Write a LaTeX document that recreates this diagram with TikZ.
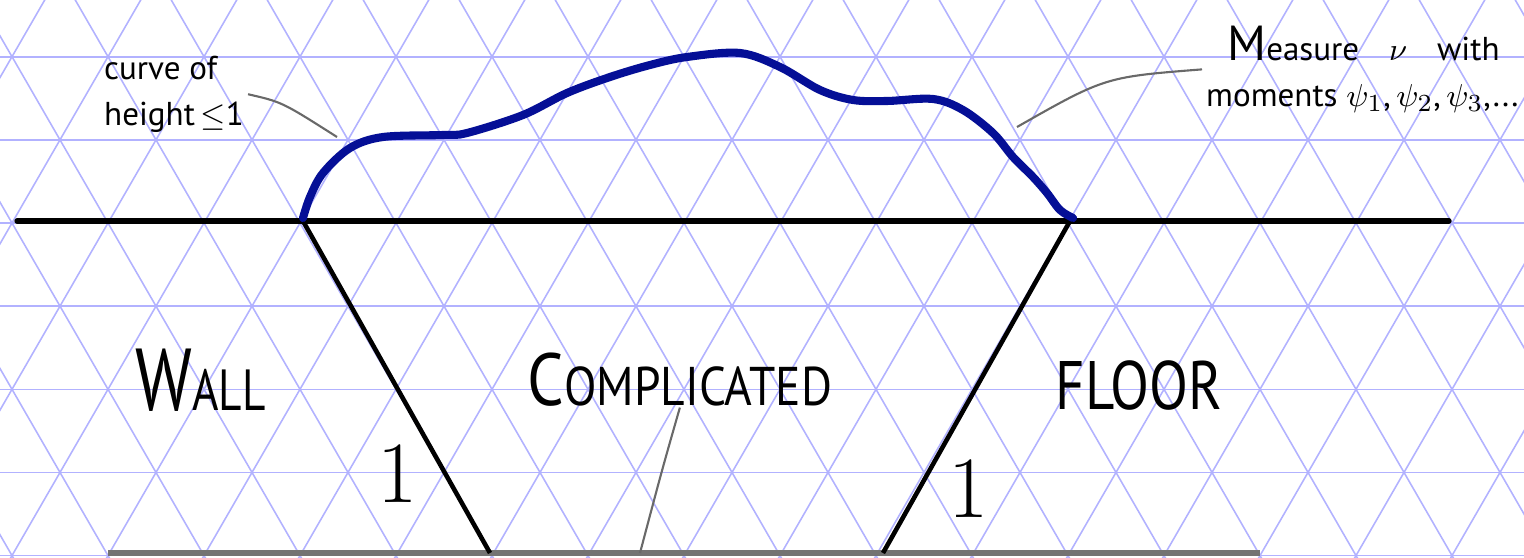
\documentclass[tikz,border=0pt]{standalone}
\usepackage{fontspec}
\setsansfont{PT Sans}
\usetikzlibrary{calc}

\definecolor{gridblue}{RGB}{178,178,255}
\definecolor{curveblue}{RGB}{5,15,150}
\definecolor{notegray}{RGB}{105,105,105}

% first letter large, the rest smaller (hand-written small caps)
\newcommand{\handsc}[4]{{\fontsize{#1}{#1}\selectfont #3}{\fontsize{#2}{#2}\selectfont #4}}

\begin{document}
\begin{tikzpicture}[
    x=0.01cm, y=-0.01cm,
    gridline/.style={draw=gridblue, line width=0.45pt},
    ground/.style={draw=black, line width=1.5pt, line cap=round},
    slant/.style={draw=black, line width=1.3pt},
    floorline/.style={draw=black!55, line width=1.5pt},
    curveline/.style={draw=curveblue, line width=2.3pt, line cap=round, line join=round},
    note/.style={draw=notegray, line width=0.6pt},
    bigword/.style={inner sep=0pt, anchor=base west, font=\sffamily, transform shape},
    smallnote/.style={inner sep=1pt, align=left, font=\sffamily\fontsize{9.4}{13}\selectfont},
    onelbl/.style={inner sep=0pt, anchor=base west}
  ]
  \useasboundingbox (0,0) rectangle (1524,558);

  % triangular grid paper
  \begin{scope}
    \clip (0,0) rectangle (1524,558);
    \foreach \k in {-4,...,20} {
      \draw[gridline] (12+96*\k-277.1,-257) -- (12+96*\k+277.1,703);
      \draw[gridline] (12+96*\k+277.1,-257) -- (12+96*\k-277.1,703);
    }
    \foreach \r in {1,...,7}
      \draw[gridline] (0,-26.4+83.14*\r) -- (1524,-26.4+83.14*\r);
  \end{scope}

  % the two levels
  \coordinate (groundL) at (17,221);
  \coordinate (groundR) at (1449,221);
  \coordinate (wallTop) at (303,221);
  \coordinate (floorTop) at (1070,221);
  \coordinate (wallFoot) at (490,553);
  \coordinate (floorFoot) at (883,553);
  \coordinate (bottomL) at (108,553);
  \coordinate (bottomR) at (1260,553);

  \draw[floorline] (bottomL) -- (bottomR);
  \draw[ground] (groundL) -- (groundR);
  \draw[slant] (wallTop) -- (wallFoot);
  \draw[slant] (floorTop) -- (floorFoot);

  % the curve
  \draw[curveline] plot[smooth, tension=0.55] coordinates {
    (303,218) (310,197) (323,173) (350,148) (383,137) (443,135) (467,133)
    (523,115) (567,93) (610,77) (650,65) (687,57) (740,53) (780,67) (820,90)
    (853,100) (887,101) (933,99) (963,110) (993,133) (1013,157) (1033,177)
    (1047,193) (1060,210) (1073,218)};

  % labels
  \node[bigword, xscale=0.78] (wall) at (135,411) {\handsc{25}{16.5}{W}{ALL}};
  \node[bigword, xscale=0.87] (complicated) at (527,406) {\handsc{21}{15.5}{C}{OMPLICATED}};
  \node[bigword, xscale=0.83] (floor) at (1055,410) {\fontsize{19.5}{19.5}\selectfont FLOOR};
  \node[onelbl] (oneL) at (377,503) {\fontsize{30}{30}\selectfont $1$};
  \node[onelbl] (oneR) at (948,518) {\fontsize{25}{25}\selectfont $1$};

  \node[smallnote, anchor=north west] (curvelbl) at (100,52)
    {curve of\\height\,$\leq$1};
  \node[smallnote, anchor=north west] (measurelbl) at (1202,22)
    {\hspace*{6pt}{\fontsize{14}{13}\selectfont M}easure\hspace{6pt} $\nu$\hspace{6pt} with\\moments $\psi_1$,\,$\psi_2$,\,$\psi_3$,...};

  % pointers
  \coordinate (curveTip) at (337,137);
  \coordinate (measureTip) at (1017,127);
  \coordinate (complicatedTip) at (640,553);
  \draw[note] (curvelbl.east) .. controls (282,102) .. (curveTip);
  \draw[note] (measurelbl.west) .. controls (1105,77) .. (measureTip);
  \draw[note] (complicated.south) .. controls (662,470) .. (complicatedTip);
\end{tikzpicture}
\end{document}
